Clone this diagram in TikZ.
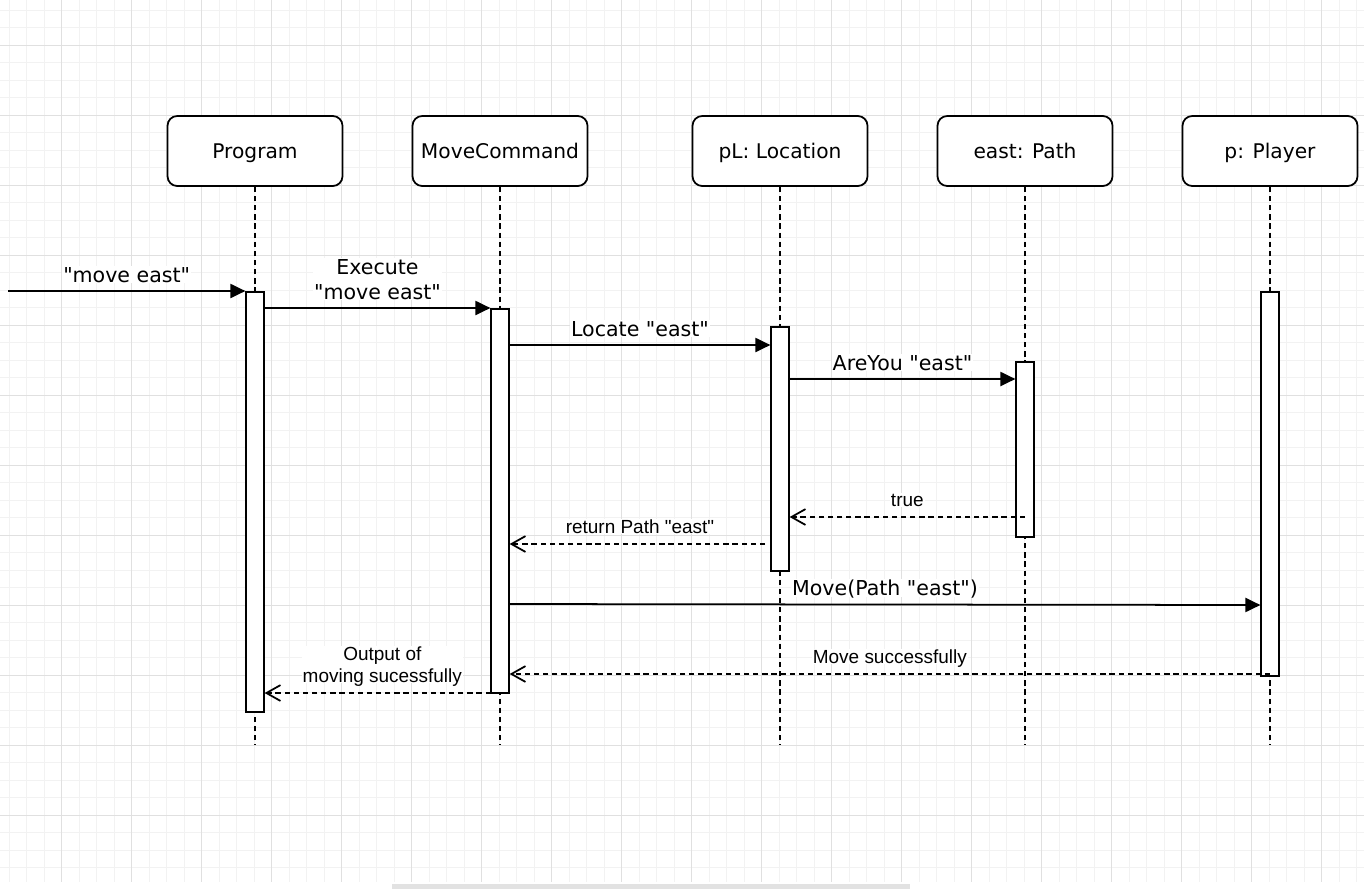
\documentclass[tikz,border=0pt]{standalone}
\usepackage{fontspec}
\newfontfamily\headfont{DejaVu Sans}
\newfontfamily\labelfont{Liberation Sans}
\usepackage{tikz}
\usetikzlibrary{arrows.meta, positioning}
\definecolor{gridmajor}{HTML}{E0E0E0}
\definecolor{gridminor}{HTML}{F2F2F2}
\definecolor{scrollgray}{HTML}{E2E2E2}

\tikzset{
  head/.style={draw, line width=1pt, rounded corners=5.5pt, fill=white,
    minimum width=3.5cm, minimum height=1.4cm, text height=8.2pt, text depth=0pt,
    font=\headfont\fontsize{11.5}{13.5}\selectfont},
  lifeline/.style={line width=1pt, dash pattern=on 3pt off 2.2pt},
  actbar/.style={draw, line width=1pt, fill=white, minimum width=0.35cm,
    inner sep=0pt, anchor=north},
  call/.style={line width=1pt, -{Triangle[length=8.5pt,width=8pt]}},
  reply/.style={line width=1pt, dash pattern=on 3pt off 2.2pt,
    -{Straight Barb[length=8pt,width=9pt]}},
  biglabel/.style={fill=white, inner sep=0.5pt, text depth=0pt, align=center,
    font=\headfont\fontsize{11.7}{14.2}\selectfont},
  smalllabel/.style={fill=white, inner sep=0.5pt, text depth=0pt, align=center,
    font=\labelfont\fontsize{10.8}{12.5}\selectfont}
}

\begin{document}
\begin{tikzpicture}[x=0.02cm, y=-0.02cm]
\useasboundingbox (0,0) rectangle (1364,889);
\fill[white] (0,0) rectangle (1364,889);
\foreach \i in {0,...,77} \draw[gridminor, line width=0.5pt] ({9.2+17.5*\i},0) -- ({9.2+17.5*\i},882);
\foreach \i in {0,...,49} \draw[gridminor, line width=0.5pt] (0,{10+17.5*\i}) -- (1364,{10+17.5*\i});
\foreach \i in {0,...,18} \draw[gridmajor, line width=0.5pt] ({61.7+70*\i},0) -- ({61.7+70*\i},882);
\foreach \i in {0,...,11} \draw[gridmajor, line width=0.5pt] (0,{45+70*\i}) -- (1364,{45+70*\i});
\fill[scrollgray] (392,884) rectangle (910,889);

\node[head] (prog) at (255,151) {Program};
\node[head] (mc) at (500,151) {MoveCommand};
\node[head] (loc) at (780,151) {pL: Location};
\node[head] (path) at (1025,151) {east: Path};
\node[head] (play) at (1270,151) {p: Player};

\foreach \n in {prog, mc, loc, path, play}
  \draw[lifeline] (\n.south) -- (\n.south |- 0,745);

\node[actbar, minimum height=8.4cm] (progact) at (255,291) {};
\node[actbar, minimum height=7.68cm] (mcact) at (500,308) {};
\node[actbar, minimum height=4.88cm] (locact) at (780,326) {};
\node[actbar, minimum height=3.5cm] (pathact) at (1025,361) {};
\node[actbar, minimum height=7.68cm] (playact) at (1270,291) {};

\coordinate (input) at (8,291);
\draw[call] (input) -- (input -| progact.west)
  node[midway, above=4pt, biglabel] {"move east"};
\draw[call] (progact.east |- 0,308) -- (mcact.west |- 0,308)
  node[midway, above=4pt, biglabel] {Execute\\"move east"};
\draw[call] (mcact.east |- 0,345) -- (locact.west |- 0,345)
  node[midway, above=4pt, biglabel] {Locate "east"};
\draw[call] (locact.east |- 0,379) -- (pathact.west |- 0,379)
  node[midway, above=4pt, biglabel] {AreYou "east"};
\draw[reply] (pathact.center |- 0,517) -- (locact.east |- 0,517)
  node[midway, above=5pt, smalllabel] {true};
\draw[reply, shorten <=3pt] (locact.west |- 0,544) -- (mcact.east |- 0,544)
  node[midway, above=5pt, smalllabel] {return Path "east"};
\draw[call] (mcact.east |- 0,604) -- (playact.west |- 0,605)
  node[midway, above=4pt, biglabel] {Move(Path "east")};
\draw[reply] (playact.center |- 0,674) -- (mcact.east |- 0,674)
  node[midway, above=5pt, smalllabel] {Move successfully};
\draw[reply] (mcact.center |- 0,693) -- (progact.east |- 0,693)
  node[midway, above=5pt, smalllabel] {Output of\\moving sucessfully};
\end{tikzpicture}
\end{document}
